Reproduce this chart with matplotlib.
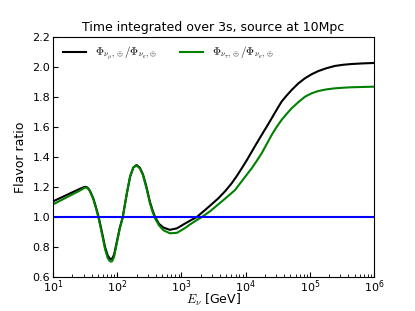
import numpy as np
import matplotlib
matplotlib.use('Agg')
import matplotlib.pyplot as plt

plt.rcParams['mathtext.fontset'] = 'cm'

# log10(E/GeV) and flavor ratios
LOGE_MU = [1.00, 1.10, 1.20, 1.30, 1.40, 1.47, 1.50, 1.53, 1.56, 1.59, 1.63, 1.68, 1.71,
           1.76, 1.81, 1.85, 1.88, 1.90, 1.92, 1.95, 1.99, 2.04, 2.085, 2.15, 2.20, 2.25,
           2.30, 2.35, 2.40, 2.45, 2.51, 2.55, 2.59, 2.65, 2.72, 2.82, 2.93, 3.06, 3.15,
           3.238, 3.368, 3.47, 3.575, 3.68, 3.783, 3.86, 3.94, 4.02, 4.095, 4.17, 4.25,
           4.33, 4.406, 4.48, 4.56, 4.64, 4.718, 4.82, 4.925, 5.03, 5.133, 5.26, 5.39,
           5.52, 5.65, 5.82, 6.00]
FLAV_MU = [1.105, 1.125, 1.145, 1.165, 1.185, 1.198, 1.202, 1.198, 1.185, 1.16, 1.12, 1.047, 1.0,
           0.902, 0.80, 0.745, 0.725, 0.72, 0.723, 0.75, 0.83, 0.93, 1.0, 1.16, 1.27, 1.33,
           1.347, 1.33, 1.285, 1.21, 1.10, 1.045, 1.0, 0.955, 0.93, 0.915, 0.925, 0.958, 0.98,
           1.0, 1.047, 1.085, 1.125, 1.172, 1.225, 1.272, 1.325, 1.38, 1.435, 1.49, 1.547,
           1.603, 1.658, 1.712, 1.769, 1.81, 1.847, 1.89, 1.925, 1.952, 1.973, 1.992, 2.007,
           2.015, 2.02, 2.024, 2.027]

LOGE_TAU = [1.00, 1.10, 1.20, 1.30, 1.40, 1.47, 1.50, 1.53, 1.56, 1.59, 1.63, 1.68, 1.71,
            1.76, 1.81, 1.85, 1.88, 1.90, 1.92, 1.95, 1.99, 2.04, 2.085, 2.15, 2.20, 2.25,
            2.30, 2.35, 2.40, 2.45, 2.51, 2.55, 2.59, 2.65, 2.72, 2.82, 2.93, 3.06, 3.134,
            3.22, 3.316, 3.45, 3.575, 3.70, 3.835, 3.96, 4.095, 4.17, 4.25, 4.33, 4.406,
            4.48, 4.56, 4.64, 4.718, 4.82, 4.925, 5.03, 5.133, 5.26, 5.39, 5.52, 5.65,
            5.82, 6.00]
FLAV_TAU = [1.085, 1.107, 1.129, 1.151, 1.173, 1.190, 1.197, 1.195, 1.182, 1.157, 1.115, 1.04, 0.99,
            0.89, 0.785, 0.728, 0.708, 0.703, 0.706, 0.735, 0.82, 0.925, 0.997, 1.16, 1.27, 1.33,
            1.345, 1.325, 1.28, 1.20, 1.09, 1.035, 0.99, 0.945, 0.912, 0.892, 0.895, 0.928, 0.951,
            0.975, 1.0, 1.04, 1.085, 1.13, 1.18, 1.25, 1.325, 1.372, 1.425, 1.487, 1.547,
            1.598, 1.647, 1.688, 1.725, 1.765, 1.802, 1.825, 1.84, 1.851, 1.858, 1.862, 1.865,
            1.867, 1.869]

E_mu = 10.0 ** np.array(LOGE_MU)
E_tau = 10.0 ** np.array(LOGE_TAU)

fig = plt.figure(figsize=(4.15, 3.11), dpi=100)
ax = fig.add_axes([0.128, 0.109, 0.773, 0.772])

ax.plot(E_mu, FLAV_MU, color='black', lw=1.5,
        label=r'$\Phi_{\nu_\mu,\oplus}/\Phi_{\nu_e,\oplus}$')
ax.plot(E_tau, FLAV_TAU, color='green', lw=1.5,
        label=r'$\Phi_{\nu_\tau,\oplus}/\Phi_{\nu_e,\oplus}$')
ax.axhline(1.0, color='blue', lw=1.5)

ax.set_xscale('log')
ax.set_xlim(1e1, 1e6)
ax.set_ylim(0.6, 2.2)
ax.set_yticks(np.arange(0.6, 2.21, 0.2))
ax.tick_params(which='both', direction='in', labelsize=8)
ax.tick_params(axis='x', pad=1)
ax.tick_params(axis='y', pad=2)
ax.set_xlabel(r'$E_\nu$ [GeV]', fontsize=9)
ax.xaxis.set_label_coords(0.5, -0.06)
ax.set_ylabel('Flavor ratio', fontsize=9)
ax.set_title('Time integrated over 3s, source at 10Mpc', fontsize=9, pad=4)
ax.legend(loc='upper left', ncol=2, frameon=False, fontsize=8, handlelength=2.1,
          columnspacing=2.0, bbox_to_anchor=(0.0, 1.01))

fig.savefig('out.png', dpi=100)
